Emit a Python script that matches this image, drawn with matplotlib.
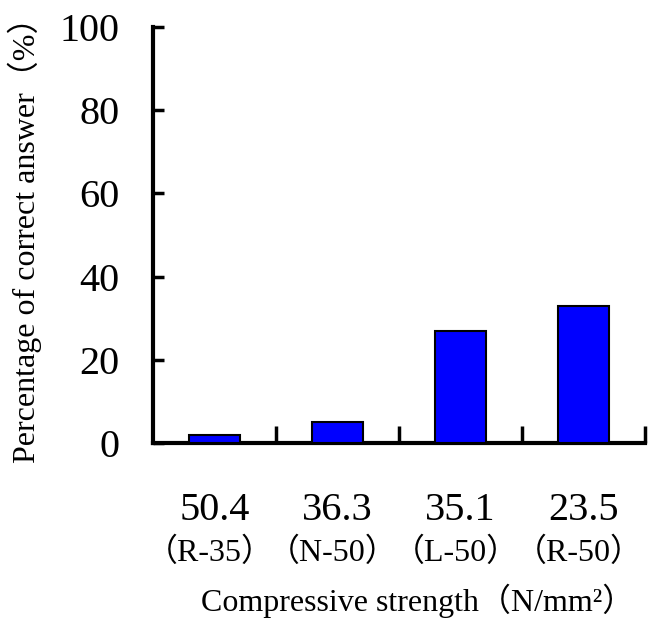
import matplotlib
matplotlib.use("Agg")
import matplotlib.pyplot as plt
from matplotlib.transforms import blended_transform_factory

strengths = ["50.4", "36.3", "35.1", "23.5"]
mixes = ["（R-35）", "（N-50）", "（L-50）", "（R-50）"]
percent_correct = [2, 5, 27, 33]
yticks = [0, 20, 40, 60, 80, 100]

FAM = ["Liberation Serif", "Noto Sans CJK JP", "DejaVu Sans"]
plt.rcParams["font.family"] = FAM

W, H = 655, 623
fig = plt.figure(figsize=(W / 100, H / 100), dpi=100)
ax = fig.add_axes([153 / W, 1 - 443 / H, (645 - 153) / W, (443 - 27) / H])

x = list(range(len(percent_correct)))
ax.bar(x, percent_correct, width=0.42, color="#0000ff", edgecolor="black", linewidth=1.5, zorder=3)

ax.set_xlim(-0.5, len(x) - 0.5)
ax.set_ylim(0, 100)
ax.set_yticks(yticks)
ax.set_yticklabels([str(v) for v in yticks], fontsize=29)
ax.set_xticks([i + 0.5 for i in x])
ax.set_xticklabels([])
ax.tick_params(axis="y", direction="in", length=8, width=2.5, pad=24)
ax.tick_params(axis="x", direction="in", length=12, width=2.5)
for s in ["top", "right"]:
    ax.spines[s].set_visible(False)
for s in ["left", "bottom"]:
    ax.spines[s].set_linewidth(3)

tr = blended_transform_factory(ax.transData, fig.transFigure)
for i, (s, m) in enumerate(zip(strengths, mixes)):
    ax.text(i, 1 - 511 / H, s, transform=tr, ha="center", va="center", fontsize=29)
    ax.text(i - 0.04, 1 - 553 / H, m, transform=tr, ha="center", va="center", fontsize=23)

fig.text(25 / W, 1 - 232 / H, "Percentage of correct answer（%）", rotation=90,
         ha="center", va="center", fontsize=23)
fig.text(418 / W, 1 - 601 / H, "Compressive strength（N/mm²）", ha="center", va="center", fontsize=23)

fig.savefig("out.png", dpi=100)
